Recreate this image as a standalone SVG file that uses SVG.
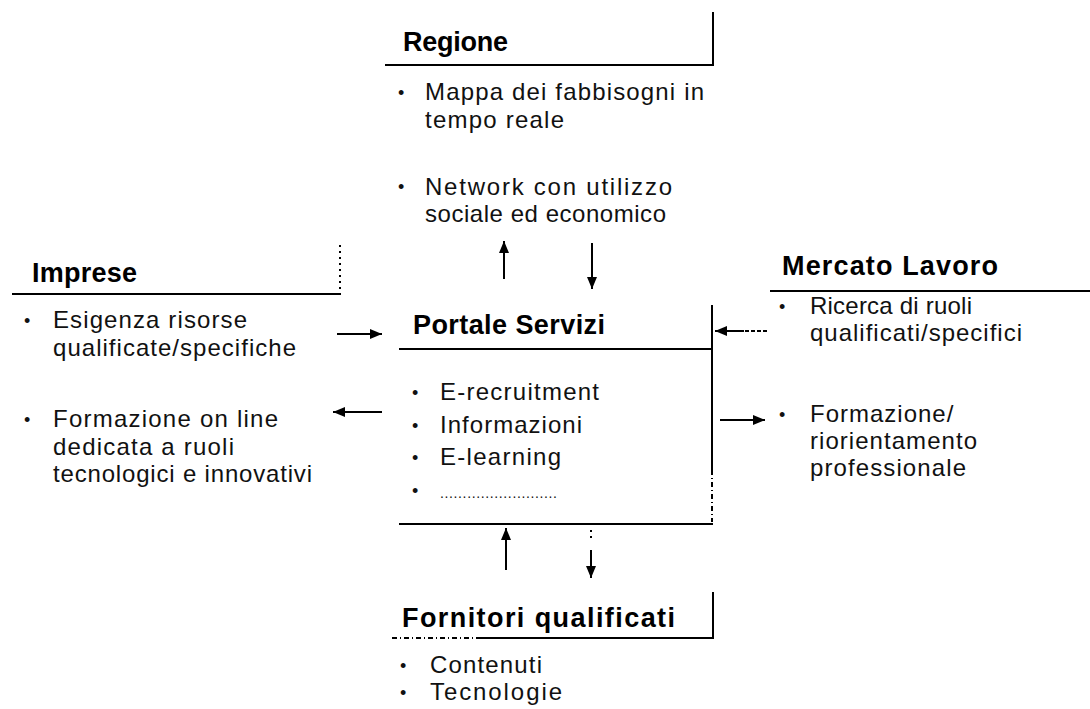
<svg xmlns="http://www.w3.org/2000/svg" width="1090" height="709" viewBox="0 0 1090 709">
  <style>
    .title { font-family: "Liberation Sans", Arial, sans-serif; font-weight: bold; font-size: 27px; fill: #000; }
    .body { font-family: "Liberation Sans", Arial, sans-serif; font-size: 24px; letter-spacing: 1px; fill: #111; }
    .bullet { font-family: "Liberation Sans", Arial, sans-serif; font-size: 18px; fill: #111; }
    .rule { stroke: #000; stroke-width: 2; fill: none; }
    .dotted { stroke: #000; stroke-width: 2; fill: none; stroke-dasharray: 2 4; }
    .dashed { stroke: #000; stroke-width: 2; fill: none; stroke-dasharray: 5 3 1 3; }
    .arrow { stroke: #000; stroke-width: 2; fill: none; marker-end: url(#head); }
  </style>
  <defs>
    <marker id="head" markerUnits="userSpaceOnUse" markerWidth="13" markerHeight="11" refX="12" refY="5" orient="auto">
      <path d="M0,0 L12,5 L0,10 z" fill="#000"/>
    </marker>
  </defs>
  <rect width="1090" height="709" fill="#fff"/>

  <!-- Regione -->
  <g id="regione">
    <text class="title" x="403" y="51" textLength="105" lengthAdjust="spacing">Regione</text>
    <line class="rule" x1="385" y1="65" x2="714" y2="65"/>
    <line class="rule" x1="713" y1="12" x2="713" y2="65"/>
    <text class="bullet" x="398" y="99">•</text>
    <text class="body" x="425" y="100" textLength="280" lengthAdjust="spacing">Mappa dei fabbisogni in</text>
    <text class="body" x="425" y="128" textLength="140" lengthAdjust="spacing">tempo reale</text>
    <text class="bullet" x="398" y="193">•</text>
    <text class="body" x="425" y="195" textLength="248" lengthAdjust="spacing">Network con utilizzo</text>
    <text class="body" x="425" y="222" textLength="242" lengthAdjust="spacing">sociale ed economico</text>
  </g>

  <!-- Imprese -->
  <g id="imprese">
    <text class="title" x="32" y="282" textLength="105" lengthAdjust="spacing">Imprese</text>
    <line class="rule" x1="12" y1="294" x2="341" y2="294"/>
    <line class="dotted" x1="340" y1="245" x2="340" y2="294"/>
    <text class="bullet" x="24" y="327">•</text>
    <text class="body" x="53" y="328" textLength="195" lengthAdjust="spacing">Esigenza risorse</text>
    <text class="body" x="53" y="356" textLength="244" lengthAdjust="spacing">qualificate/specifiche</text>
    <text class="bullet" x="24" y="426">•</text>
    <text class="body" x="53" y="427" textLength="226" lengthAdjust="spacing">Formazione on line</text>
    <text class="body" x="53" y="455" textLength="182" lengthAdjust="spacing">dedicata a ruoli</text>
    <text class="body" x="53" y="482" textLength="260" lengthAdjust="spacing">tecnologici e innovativi</text>
  </g>

  <!-- Portale Servizi -->
  <g id="portale">
    <text class="title" x="413" y="334" textLength="192" lengthAdjust="spacing">Portale Servizi</text>
    <line class="rule" x1="399" y1="349" x2="713" y2="349"/>
    <line class="rule" x1="712" y1="305" x2="712" y2="470"/>
    <line class="dashed" x1="712" y1="470" x2="712" y2="522"/>
    <line class="rule" x1="399" y1="524" x2="713" y2="524"/>
    <text class="bullet" x="412" y="399">•</text>
    <text class="body" x="440" y="400" textLength="160" lengthAdjust="spacing">E-recruitment</text>
    <text class="bullet" x="412" y="432">•</text>
    <text class="body" x="440" y="433" textLength="143" lengthAdjust="spacing">Informazioni</text>
    <text class="bullet" x="412" y="464">•</text>
    <text class="body" x="440" y="465" textLength="122" lengthAdjust="spacing">E-learning</text>
    <text class="bullet" x="412" y="497">•</text>
    <text class="body" x="440" y="498" style="font-size:14px" textLength="118" lengthAdjust="spacing">..........................</text>
  </g>

  <!-- Mercato Lavoro -->
  <g id="mercato">
    <text class="title" x="782" y="275" textLength="216" lengthAdjust="spacing">Mercato Lavoro</text>
    <line class="rule" x1="770" y1="291" x2="1090" y2="291"/>
    <text class="bullet" x="779" y="313">•</text>
    <text class="body" x="810" y="314" textLength="163" lengthAdjust="spacing">Ricerca di ruoli</text>
    <text class="body" x="810" y="341" textLength="213" lengthAdjust="spacing">qualificati/specifici</text>
    <text class="bullet" x="779" y="421">•</text>
    <text class="body" x="810" y="422">Formazione/</text>
    <text class="body" x="810" y="449" textLength="168" lengthAdjust="spacing">riorientamento</text>
    <text class="body" x="810" y="476" textLength="157" lengthAdjust="spacing">professionale</text>
  </g>

  <!-- Fornitori qualificati -->
  <g id="fornitori">
    <text class="title" x="402" y="627" textLength="273" lengthAdjust="spacing">Fornitori  qualificati</text>
    <line class="dashed" x1="392" y1="638" x2="480" y2="638"/>
    <line class="rule" x1="480" y1="638" x2="714" y2="638"/>
    <line class="rule" x1="713" y1="592" x2="713" y2="638"/>
    <text class="bullet" x="400" y="672">•</text>
    <text class="body" x="430" y="673" textLength="113" lengthAdjust="spacing">Contenuti</text>
    <text class="bullet" x="400" y="699">•</text>
    <text class="body" x="430" y="700" textLength="133" lengthAdjust="spacing">Tecnologie</text>
  </g>

  <!-- Connectors -->
  <g id="connectors">
    <line class="arrow" x1="504" y1="279" x2="504" y2="241"/>
    <line class="arrow" x1="592" y1="243" x2="592" y2="289"/>
    <line class="arrow" x1="337" y1="334" x2="382" y2="334"/>
    <line class="arrow" x1="382" y1="412" x2="333" y2="412"/>
    <line class="dashed" x1="767" y1="331" x2="742" y2="331" style="stroke-dasharray:4 2"/>
    <line class="arrow" x1="744" y1="331" x2="715" y2="331"/>
    <line class="arrow" x1="720" y1="420" x2="765" y2="420"/>
    <line class="arrow" x1="506" y1="570" x2="506" y2="528"/>
    <line class="dotted" x1="591" y1="530" x2="591" y2="540"/>
    <line class="arrow" x1="591" y1="550" x2="591" y2="578"/>
  </g>
</svg>
